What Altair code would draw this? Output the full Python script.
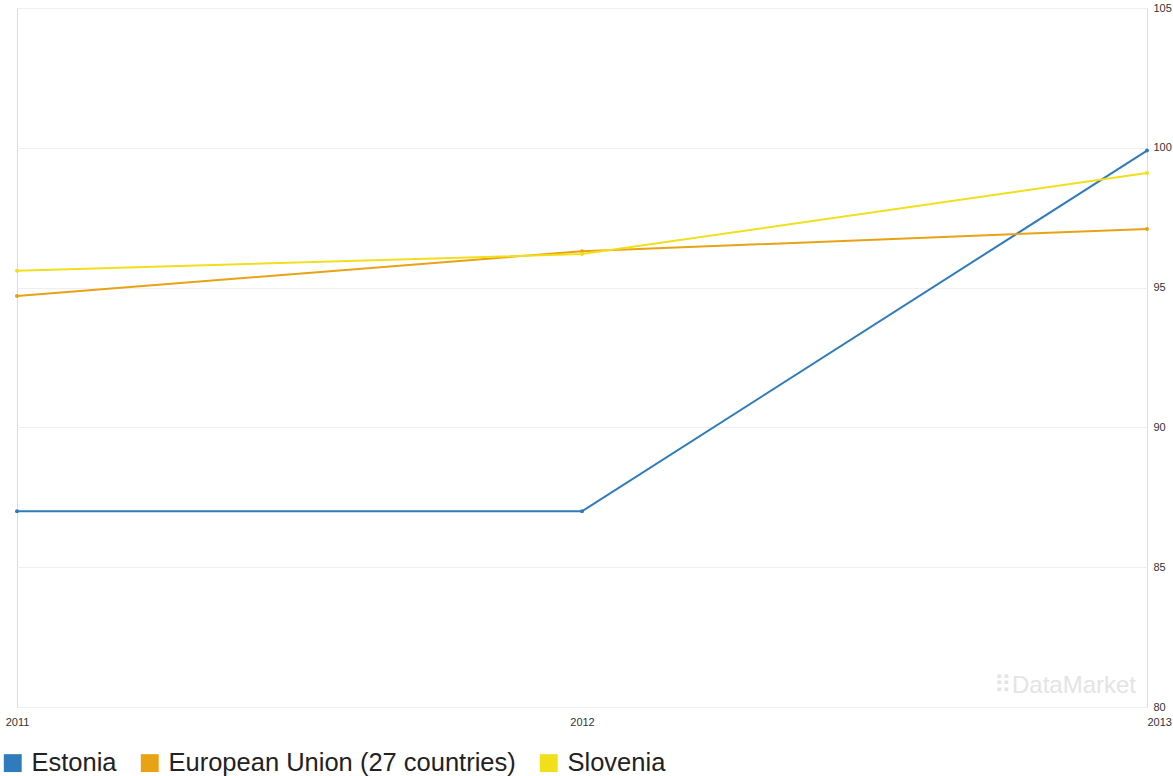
import altair as alt
import pandas as pd

years = [2011, 2012, 2013]
estonia = [87.0, 87.0, 99.9]
eu27 = [94.7, 96.3, 97.1]
slovenia = [95.6, 96.2, 99.1]

series_names = ["Estonia", "European Union (27 countries)", "Slovenia"]
series_colors = ["#2f7bbb", "#e9a214", "#f2df1c"]

rows = []
for name, vals in zip(series_names, [estonia, eu27, slovenia]):
    for yr, v in zip(years, vals):
        rows.append({"year": str(yr), "value": v, "series": name})
df = pd.DataFrame(rows)

x_enc = alt.X(
    "year:O",
    scale=alt.Scale(type="point", padding=0, domain=[str(y) for y in years]),
    axis=alt.Axis(
        title=None, grid=False, domain=False, ticks=False, labelAngle=0,
        labelFontSize=11, labelColor="#333", labelPadding=9,
        labelFont="Liberation Sans", labelOverlap=False,
        labelAlign=alt.expr("datum.label == '2013' ? 'left' : 'center'"),
    ),
)
y_enc = alt.Y(
    "value:Q",
    scale=alt.Scale(domain=[80, 105], nice=False, zero=False),
    axis=alt.Axis(
        orient="right", values=[80, 85, 90, 95, 100, 105], title=None,
        grid=True, gridColor="#efefef", domain=False, ticks=False,
        labelFontSize=11, labelColor="#333", labelPadding=6,
        labelFont="Liberation Sans", labelFlush=False, labelOverlap=False,
    ),
)
color_enc = alt.Color(
    "series:N",
    scale=alt.Scale(domain=series_names, range=series_colors),
    legend=alt.Legend(
        orient="none", legendX=-17, legendY=742, direction="horizontal",
        title=None, symbolType="square", symbolSize=320, symbolStrokeWidth=0,
        symbolOpacity=1, labelFontSize=25.5, labelFont="Liberation Sans",
        labelColor="#222", labelLimit=500, columnPadding=20, symbolOffset=0,
        labelOffset=6,
    ),
)

base = alt.Chart(df).encode(x=x_enc, y=y_enc, color=color_enc)
lines = base.mark_line(strokeWidth=2)
points = base.mark_circle(size=16, opacity=1)

watermark = alt.Chart(pd.DataFrame({"t": ["⠿DataMarket"]})).mark_text(
    align="right", baseline="middle", fontSize=24, color="#e4e4e4",
    font="Liberation Sans",
).encode(x=alt.value(1119), y=alt.value(678), text="t:N")

chart = (
    alt.layer(lines, points, watermark)
    .properties(
        width=1130, height=699,
        autosize=alt.AutoSizeParams(type="none"),
        padding={"left": 17, "top": 8, "right": 26, "bottom": 69},
    )
    .configure_view(stroke="#c8c8c8", strokeWidth=1.5)
    .configure(background="white")
)

chart.save("out.html", embed_options={"renderer": "svg", "actions": False})
